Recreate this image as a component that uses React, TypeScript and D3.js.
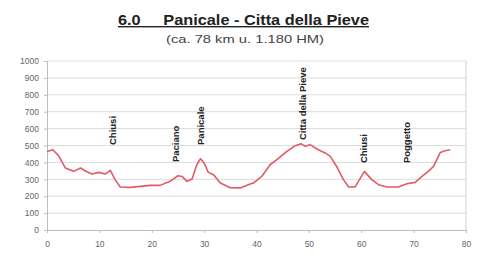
import React, { useEffect, useRef } from 'react';
import * as d3 from 'd3';

// elevation profile: km along route, metres above sea level
const km = [0, 1.1, 2.2, 3.5, 5.1, 6.4, 7.3, 8.6, 9.9, 11.1, 12.1, 13.0, 14.0, 15.9, 19.7, 21.6, 23.5, 25.0, 25.8, 26.7, 27.7, 28.6, 29.3, 30.0, 30.8, 31.8, 33.1, 35.0, 36.9, 38.8, 39.4, 41.0, 42.6, 43.9, 45.8, 47.4, 48.5, 49.3, 50.2, 51.8, 53.1, 54.1, 55.3, 56.6, 57.6, 58.8, 60.6, 62.0, 63.3, 64.9, 67.1, 68.7, 70.3, 71.6, 72.8, 73.8, 75.1, 76.0, 77.0];
const elevation = [465, 475, 440, 367, 347, 367, 349, 331, 341, 331, 353, 298, 254, 252, 264, 264, 288, 321, 317, 288, 302, 386, 422, 396, 341, 327, 278, 250, 249, 272, 278, 317, 386, 416, 465, 499, 511, 495, 505, 475, 456, 436, 376, 298, 254, 254, 347, 298, 268, 254, 254, 274, 282, 317, 347, 376, 459, 469, 475];

// place names written vertically above the profile
const placeNames = ['Chiusi', 'Paciano', 'Panicale', 'Citta della Pieve', 'Chiusi', 'Poggetto'];
const placeKm = [12.5, 24.5, 29.4, 48.7, 60.4, 68.7];
const placeLabelBase = [503, 402, 503, 532, 396, 396];

const yTicks = d3.range(0, 1001, 100);
const xTicks = d3.range(0, 81, 10);

const title = '6.0     Panicale - Citta della Pieve';
const subtitle = '(ca. 78 km u. 1.180 HM)';

const App = () => {
  const ref = useRef<SVGSVGElement>(null);

  useEffect(() => {
    const width = 478, height = 259;
    const margin = { top: 61, right: 12, bottom: 29, left: 47 };
    const font = 'Liberation Sans, Arial, sans-serif';
    const svg = d3.select(ref.current);
    svg.selectAll('*').remove();
    svg.attr('width', width).attr('height', height);

    svg.append('rect').attr('width', width).attr('height', height).attr('fill', '#fff');

    const x = d3.scaleLinear().domain([0, 80]).range([margin.left, width - margin.right]);
    const y = d3.scaleLinear().domain([0, 1000]).range([height - margin.bottom, margin.top]);

    // titles
    svg.append('text')
      .attr('x', 118).attr('y', 25)
      .attr('textLength', 251)
      .attr('lengthAdjust', 'spacingAndGlyphs')
      .style('font-family', font)
      .style('font-weight', 'bold')
      .style('font-size', '14px')
      .style('fill', '#222')
      .style('text-decoration', 'underline')
      .style('white-space', 'pre')
      .text(title);

    svg.append('text')
      .attr('x', 166).attr('y', 43)
      .attr('textLength', 158)
      .attr('lengthAdjust', 'spacingAndGlyphs')
      .style('font-family', font)
      .style('font-size', '11px')
      .style('fill', '#444')
      .text(subtitle);

    // grid
    svg.append('g')
      .selectAll('line')
      .data(yTicks.slice(1))
      .join('line')
      .attr('x1', margin.left).attr('x2', width - margin.right)
      .attr('y1', d => y(d)).attr('y2', d => y(d))
      .attr('stroke', '#dcdcdc').attr('stroke-width', 1);

    // right border
    svg.append('line')
      .attr('x1', x(80)).attr('x2', x(80))
      .attr('y1', y(0)).attr('y2', y(1000))
      .attr('stroke', '#cfcfcf');

    // axes
    const yAxis = svg.append('g')
      .attr('transform', `translate(${margin.left},0)`)
      .call(d3.axisLeft(y).tickValues(yTicks).tickFormat(d3.format('d')).tickSize(3).tickPadding(5));
    const xAxis = svg.append('g')
      .attr('transform', `translate(0,${y(0)})`)
      .call(d3.axisBottom(x).tickValues(xTicks).tickSize(3).tickPadding(8));
    [yAxis, xAxis].forEach(a => {
      a.select('.domain').attr('stroke', '#bdbdbd');
      a.selectAll('.tick line').attr('stroke', '#bdbdbd');
      a.selectAll('text')
        .style('font-family', font)
        .style('font-size', '8.5px')
        .style('fill', '#666');
    });

    // profile
    const line = d3.line<number>()
      .x((d, i) => x(km[i]))
      .y(d => y(d));
    svg.append('path')
      .datum(elevation)
      .attr('d', line)
      .attr('fill', 'none')
      .attr('stroke', '#e35a66')
      .attr('stroke-width', 1.6)
      .attr('stroke-linejoin', 'round');

    // place names
    svg.append('g')
      .selectAll('text')
      .data(placeNames)
      .join('text')
      .attr('transform', (d, i) => `translate(${x(placeKm[i]) + 3.5},${y(placeLabelBase[i])}) rotate(-90)`)
      .style('font-family', font)
      .style('font-weight', 'bold')
      .style('font-size', '9.5px')
      .style('fill', '#222')
      .text(d => d);
  }, []);

  return <svg ref={ref} style={{ position: 'absolute', left: 0, top: 0 }} />;
};

export default App;
